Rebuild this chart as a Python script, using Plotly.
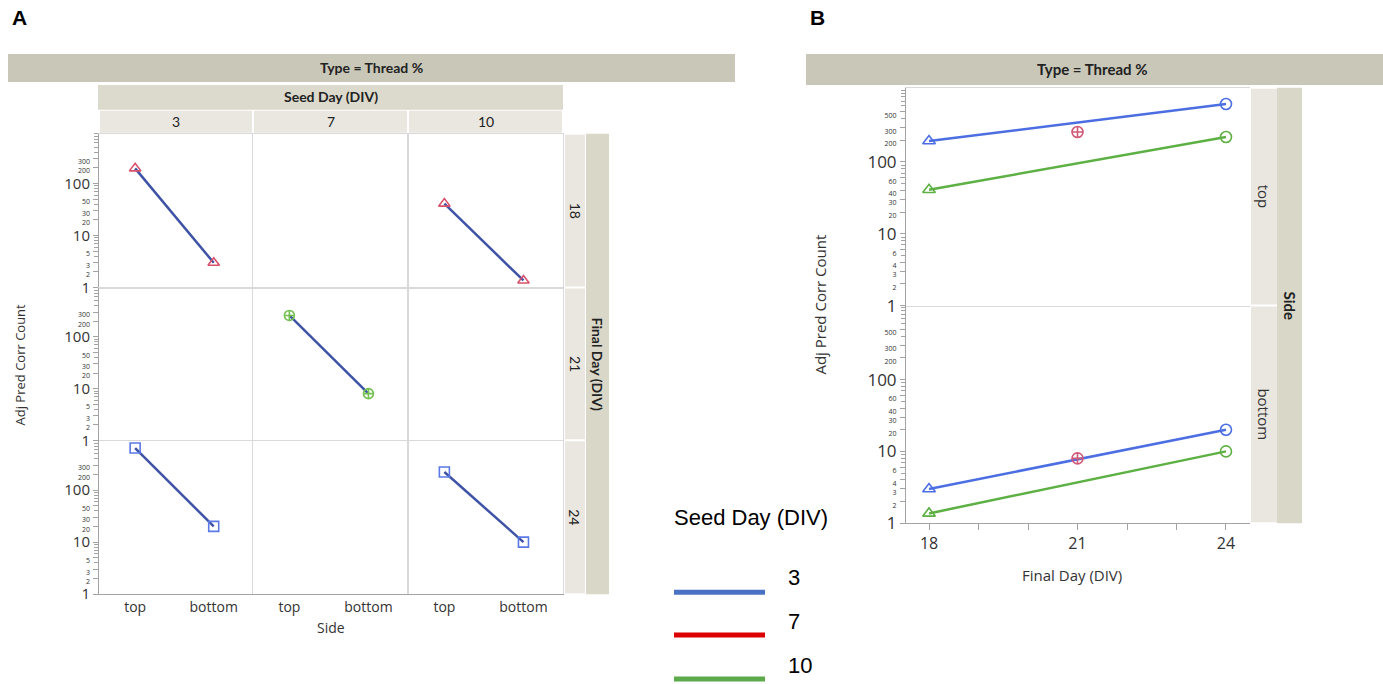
import math
import plotly.graph_objects as go

W, H = 1383, 684          # design size (reference pixels)
FIG_H = 694               # rendered page height (maps to 684 in the photograph)

# ---------------- data ----------------
sides = ["top", "bottom"]
final_days = [18, 21, 24]
seed_days = [3, 7, 10]
# values by final day (18, 21, 24)
seed3_top = [195, None, 640]
seed3_bottom = [3.0, None, 20]
seed7_top = [None, 260, None]
seed7_bottom = [None, 8.0, None]
seed10_top = [41, None, 222]
seed10_bottom = [1.37, None, 10]

A_ytick_vals = [1, 2, 3, 5, 10, 20, 30, 50, 100, 200, 300]
A_yminor_vals = [4, 6, 7, 8, 9, 40, 60, 70, 80, 90, 400, 500, 600, 700, 800, 900]
B_ytick_vals = [1, 2, 3, 4, 6, 10, 20, 30, 40, 60, 100, 200, 300, 500]
B_yminor_vals = [5, 7, 8, 9, 50, 70, 80, 90, 400, 600, 700, 800, 900, 1000]
B_xtick_vals = [18, 21, 24]
B_xminor_vals = [19, 20, 22, 23]
major_labels = [1, 10, 100]

series = {3: (seed3_top, seed3_bottom), 7: (seed7_top, seed7_bottom), 10: (seed10_top, seed10_bottom)}

# ---------------- styles ----------------
A_line = "#3E53A6"
A_marker = {18: ("#D9506A", "triangle-up-open"), 21: ("#74C052", "circle-cross-open"), 24: ("#5A78E6", "square-open")}
B_color = {3: "#4C6EE3", 7: "#D05A78", 10: "#5DB043"}
B_symbol = {18: "triangle-up-open", 21: "circle-cross-open", 24: "circle-open"}
TICKF = "Open Sans, Noto Sans, sans-serif"
STRIPF = "Lato, Liberation Sans, sans-serif"
GRID = "#D9D9D9"
AXC = "#A3A3A3"


def fx(px):
    return px / W


def fy(py):
    return 1 - py / H


def tick_text(vals, small=7):
    return [str(v) if v in major_labels else '<span style="font-size:%dpx">%d</span>' % (small, v) for v in vals]


fig = go.Figure()
layout = dict(width=W, height=FIG_H, margin=dict(l=0, r=0, t=0, b=0), autosize=False,
              paper_bgcolor="white", plot_bgcolor="white", showlegend=False)

# ---------------- panel A ----------------
colx = [99, 253, 408, 563]
rowy = [134, 288, 441, 595]
n = 0
for r, fd in enumerate(final_days):
    for c, sd in enumerate(seed_days):
        n += 1
        xa = "xaxis" if n == 1 else "xaxis%d" % n
        ya = "yaxis" if n == 1 else "yaxis%d" % n
        top_vals, bot_vals = series[sd]
        tv, bv = top_vals[r], bot_vals[r]
        if tv is not None:
            col, sym = A_marker[fd]
            fig.add_trace(go.Scatter(
                x=sides, y=[tv, bv], mode="lines+markers",
                line=dict(color=A_line, width=2.5),
                marker=dict(color=col, symbol=sym, size=10, line=dict(width=1.6, color=col)),
                xaxis="x" if n == 1 else "x%d" % n, yaxis="y" if n == 1 else "y%d" % n,
                hoverinfo="skip"))
        else:
            fig.add_trace(go.Scatter(x=[], y=[], xaxis="x" if n == 1 else "x%d" % n,
                                     yaxis="y" if n == 1 else "y%d" % n))
        bottom_row = (r == 2)
        layout[xa] = dict(domain=[fx(colx[c]), fx(colx[c + 1])], anchor="y" if n == 1 else "y%d" % n,
                          type="category", categoryorder="array", categoryarray=sides,
                          range=[-0.46, 1.5], showgrid=False, zeroline=False,
                          showline=True, linecolor=AXC if bottom_row else GRID, linewidth=1,
                          mirror=False if bottom_row else True,
                          showticklabels=bottom_row, ticks="",
                          tickfont=dict(family=TICKF, size=14, color="#333333"))
        layout[ya] = dict(domain=[fy(rowy[r + 1]), fy(rowy[r])], anchor="x" if n == 1 else "x%d" % n,
                          type="log", range=[0, math.log10(900)],
                          tickmode="array", tickvals=A_ytick_vals, ticktext=tick_text(A_ytick_vals),
                          showgrid=False, zeroline=False,
                          showline=True, linecolor=AXC if c == 0 else GRID, linewidth=1,
                          mirror=False if c == 0 else True,
                          showticklabels=(c == 0),
                          ticks="outside" if c == 0 else "", ticklen=5, tickcolor=AXC,
                          minor=dict(tickvals=A_yminor_vals, ticks="outside" if c == 0 else "",
                                     ticklen=4, tickcolor=AXC, showgrid=False),
                          tickfont=dict(family=TICKF, size=15, color="#333333"))
        if c == 2:
            layout[ya]["mirror"] = True

# ---------------- panel B ----------------
bx = [906, 1250]
by = [88, 306, 524]
for k, side in enumerate(sides):
    n += 1
    xa, ya = "xaxis%d" % n, "yaxis%d" % n
    for sd in seed_days:
        vals = series[sd][k]
        fig.add_trace(go.Scatter(
            x=final_days, y=vals, mode="lines+markers", connectgaps=True,
            line=dict(color=B_color[sd], width=2.5),
            marker=dict(color=B_color[sd], symbol=[B_symbol[d] for d in final_days], size=11,
                        line=dict(width=1.6, color=B_color[sd])),
            xaxis="x%d" % n, yaxis="y%d" % n, hoverinfo="skip"))
    bottom = (k == 1)
    layout[xa] = dict(domain=[fx(bx[0]), fx(bx[1])], anchor="y%d" % n,
                      range=[17.535, 24.485], tickmode="array", tickvals=B_xtick_vals,
                      showgrid=False, zeroline=False, showline=True,
                      linecolor=AXC if bottom else GRID, mirror=False if bottom else True,
                      showticklabels=bottom, ticks="outside" if bottom else "", ticklen=6, tickcolor=AXC,
                      minor=dict(tickvals=B_xminor_vals, ticks="outside" if bottom else "",
                                 ticklen=6, tickcolor=AXC, showgrid=False),
                      tickfont=dict(family=TICKF, size=16, color="#333333"))
    layout[ya] = dict(domain=[fy(by[k + 1]), fy(by[k])], anchor="x%d" % n,
                      type="log", range=[0, 3.03],
                      tickmode="array", tickvals=B_ytick_vals, ticktext=tick_text(B_ytick_vals, 7),
                      showgrid=False, zeroline=False, showline=True, linecolor=AXC, mirror=False,
                      ticks="outside", ticklen=5, tickcolor=AXC,
                      minor=dict(tickvals=B_yminor_vals, ticks="outside", ticklen=4,
                                 tickcolor=AXC, showgrid=False),
                      tickfont=dict(family=TICKF, size=17, color="#333333"))

# ---------------- strips & decorations ----------------
shapes = []
ann = []


def rect(x0, y0, x1, y1, color):
    shapes.append(dict(type="rect", xref="paper", yref="paper", x0=fx(x0), x1=fx(x1),
                       y0=fy(y1), y1=fy(y0), fillcolor=color, line=dict(width=0), layer="below"))


def text(x, y, s, size=13, family=STRIPF, color="#222222", angle=0, bold=False, xanchor="center"):
    ann.append(dict(xref="paper", yref="paper", x=fx(x), y=fy(y), text=("<b>%s</b>" % s) if bold else s,
                    showarrow=False, textangle=angle, xanchor=xanchor, yanchor="middle",
                    font=dict(family=family, size=size, color=color)))


STRIP1, STRIP2, STRIP3 = "#C9C7B8", "#DCDACC", "#E9E7DF"

# panel A strips
rect(8, 54, 735, 82, STRIP1)
text(371, 68, "Type = Thread %", size=14, bold=True)
rect(98, 85, 563, 110, STRIP2)
text(331, 97, "Seed Day (DIV)", size=14, bold=True)
for c, sd in enumerate(seed_days):
    rect(colx[c] + 1, 111, colx[c + 1] - 1, 133, STRIP3)
    text((colx[c] + colx[c + 1]) / 2, 122, str(sd), size=14)
for r, fd in enumerate(final_days):
    rect(565, rowy[r] + 1, 585, rowy[r + 1] - 1, STRIP3)
    text(575, (rowy[r] + rowy[r + 1]) / 2, str(fd), size=14, angle=90)
rect(586, 134, 609, 595, "#D9D7C7")
text(598, 365, "Final Day (DIV)", size=14, bold=True, angle=90)

text(20, 365, "Adj Pred Corr Count", size=13, family=TICKF, color="#333333", angle=-90)
text(331, 628, "Side", size=14, family=TICKF, color="#333333")
text(10, 18, "A", size=21, family="Liberation Sans, Arial, sans-serif", color="black", bold=True, xanchor="left")

# panel B strips
rect(806, 54, 1383, 85, STRIP1)
text(1092, 69, "Type = Thread %", size=15, bold=True)
for k, side in enumerate(sides):
    rect(1251, by[k] + 1, 1277, by[k + 1] - 1, STRIP3)
    text(1264, (by[k] + by[k + 1]) / 2, side, size=15, family=TICKF, color="#333333", angle=90)
rect(1277, 88, 1302, 524, "#D9D7C7")
text(1290, 306, "Side", size=15, bold=True, angle=90)
text(820, 305, "Adj Pred Corr Count", size=15, family=TICKF, color="#333333", angle=-90)
text(1072, 576, "Final Day (DIV)", size=15, family=TICKF, color="#333333")
text(808, 18, "B", size=21, family="Liberation Sans, Arial, sans-serif", color="black", bold=True, xanchor="left")

# legend (drawn manually)
LEGF = "Liberation Sans, Arial, sans-serif"
text(672, 518, "Seed Day (DIV)", size=22, family=LEGF, color="black", xanchor="left")
leg_colors = {3: "#4A72C4", 7: "#DD0000", 10: "#5DAA4A"}
leg_line_y = [593, 636, 680]
leg_text_y = [578, 622, 666]
for i, sd in enumerate(seed_days):
    shapes.append(dict(type="line", xref="paper", yref="paper", x0=fx(674), x1=fx(765),
                       y0=fy(leg_line_y[i]), y1=fy(leg_line_y[i]),
                       line=dict(color=leg_colors[sd], width=5)))
    text(786, leg_text_y[i], str(sd), size=22, family=LEGF, color="black", xanchor="left")

layout["shapes"] = shapes
layout["annotations"] = ann
fig.update_layout(**layout)

fig.write_html("out.html", config={"displayModeBar": False},
               post_script="document.body.style.margin='0';")
